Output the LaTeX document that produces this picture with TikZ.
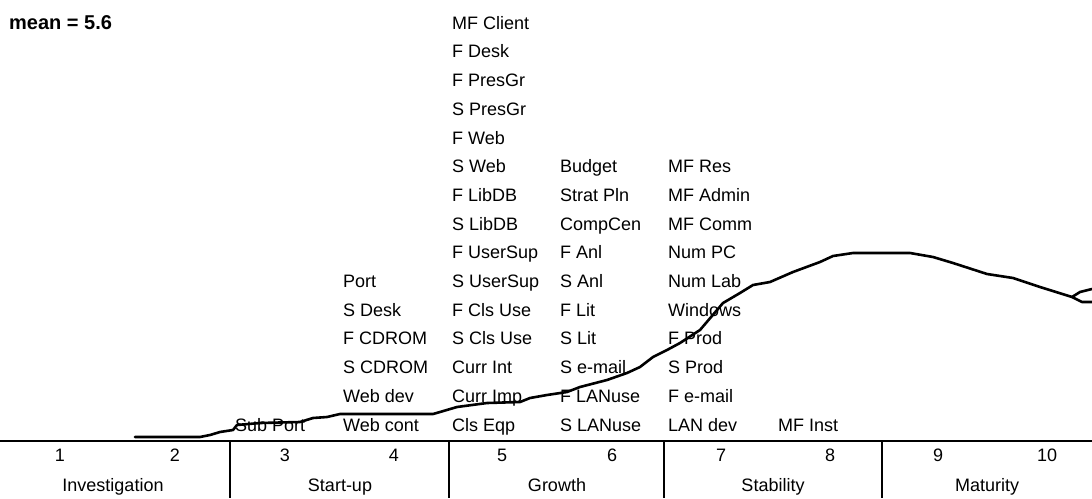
\documentclass[tikz,border=0pt]{standalone}
\usepackage{fontspec}
\setmainfont{Liberation Sans}
\usetikzlibrary{positioning}

\begin{document}
\begin{tikzpicture}[
    x=1pt, y=-1pt,
    itemlist/.style={
        font=\fontsize{18}{28.7}\selectfont,
        align=left,
        inner sep=0pt,
        anchor=base west
    },
    phasetext/.style={
        font=\fontsize{18}{20}\selectfont,
        inner sep=0pt,
        anchor=base
    },
    axis/.style={
        line width=2.4pt
    },
    divider/.style={
        line width=1.8pt
    },
    curve/.style={
        line width=2.6pt,
        line join=round,
        line cap=round
    }
]

% Page
\useasboundingbox (0,0) rectangle (1092,498);
\fill[white] (0,0) rectangle (1092,498);

% Mean
\node[itemlist, font=\bfseries\fontsize{20}{22}\selectfont] (mean) at (9,29) {mean = 5.6};

% Item columns
\node[itemlist] (subport) at (235,431) {Sub Port};
\node[itemlist] (startlist) at (343,431) {Port\\S Desk\\F CDROM\\S CDROM\\Web dev\\Web cont};
\node[itemlist] (growlist) at (452,431) {MF Client\\F Desk\\F PresGr\\S PresGr\\F Web\\S Web\\F LibDB\\S LibDB\\F UserSup\\S UserSup\\F Cls Use\\S Cls Use\\Curr Int\\Curr Imp\\Cls Eqp};
\node[itemlist] (planlist) at (560,431) {Budget\\Strat Pln\\CompCen\\F Anl\\S Anl\\F Lit\\S Lit\\S e-mail\\F LANuse\\S LANuse};
\node[itemlist] (mflist) at (668,431) {MF Res\\MF Admin\\MF Comm\\Num PC\\Num Lab\\Windows\\F Prod\\S Prod\\F e-mail\\LAN dev};
\node[itemlist] (mfinst) at (778,431) {MF Inst};

% Stage bar
\draw[axis] (0,441) -- (1092,441);
\draw[divider] (230,441) -- (230,498);
\draw[divider] (449,441) -- (449,498);
\draw[divider] (664,441) -- (664,498);
\draw[divider] (882,441) -- (882,498);

% Years
\node[phasetext] (y1) at (60,461) {1};
\node[phasetext] (y2) at (175,461) {2};
\node[phasetext] (y3) at (285,461) {3};
\node[phasetext] (y4) at (394,461) {4};
\node[phasetext] (y5) at (502,461) {5};
\node[phasetext] (y6) at (612,461) {6};
\node[phasetext] (y7) at (721,461) {7};
\node[phasetext] (y8) at (830,461) {8};
\node[phasetext] (y9) at (938,461) {9};
\node[phasetext] (y10) at (1047,461) {10};

% Stages
\node[phasetext] (investigation) at (113,491) {Investigation};
\node[phasetext] (startup) at (340,491) {Start-up};
\node[phasetext] (growth) at (557,491) {Growth};
\node[phasetext] (stability) at (773,491) {Stability};
\node[phasetext] (maturity) at (987,491) {Maturity};

% Curve
\draw[curve] (135,437) -- (200,437) -- (210,435) -- (220,432) -- (233,430) -- (237,425)
    -- (260,423) -- (300,422) -- (313,418) -- (327,417) -- (340,414) -- (433,414)
    -- (440,412) -- (457,407) -- (487,403) -- (520,402) -- (530,398) -- (547,395)
    -- (567,392) -- (580,387) -- (607,380) -- (627,373) -- (640,367) -- (653,357)
    -- (667,350) -- (680,343) -- (700,330) -- (723,303) -- (740,293) -- (753,285)
    -- (770,282) -- (793,272) -- (820,262) -- (833,256) -- (853,253) -- (910,253)
    -- (933,257) -- (953,263) -- (987,274) -- (1013,278) -- (1040,287) -- (1072,297)
    coordinate (fork);
\draw[curve] (fork) -- (1080,292) -- (1092,289);
\draw[curve] (fork) -- (1082,302) -- (1092,302);

\end{tikzpicture}
\end{document}
